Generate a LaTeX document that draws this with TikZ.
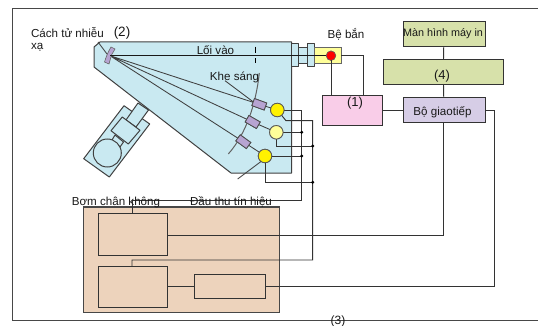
\documentclass[tikz,border=0pt]{standalone}
\usepackage{fontspec}
\setmainfont{Liberation Sans}
\tikzset{
 x=1pt,y=-1pt,
 every node/.style={font=\fontsize{11.6}{13}\selectfont,text=black!90,inner sep=0pt,outer sep=0pt},
 box/.style={draw=black!80,line width=1pt,rectangle,anchor=north west},
 wire/.style={draw=black!80,line width=0.95pt},
 thinl/.style={draw=black!75,line width=0.85pt},
 bluep/.style={draw=black!75,fill=blueb,line width=1pt,line join=round},
 slit/.style={draw=black!70,fill=purp,line width=0.8pt,rectangle,minimum width=13pt,minimum height=7.5pt},
 det/.style={circle,draw=black!65,line width=0.8pt,minimum size=13.5pt},
 jdot/.style={circle,fill=black,minimum size=3.4pt},
}
\definecolor{blueb}{HTML}{C9E9F1}
\definecolor{purp}{HTML}{B7A4D2}
\definecolor{tan}{HTML}{EDD3BC}
\definecolor{pinkb}{HTML}{F9CDE8}
\definecolor{greenb}{HTML}{D7E1AA}
\definecolor{lilac}{HTML}{D6CDE6}
\definecolor{yelb}{HTML}{FFFF99}
\begin{document}
\begin{tikzpicture}
\useasboundingbox (0,0) rectangle (538,326);
% frame
\draw[draw=black!72,line width=1pt] (538,9) -- (12.5,9) -- (12.5,320) -- (538,320);
% pump assembly
\draw[bluep] (124,105.7) -- (149.7,124) -- (109.3,177) -- (83.7,158.7) -- cycle;
\draw[bluep] (138,103) -- (148.5,110) -- (136,127) -- (126,120) -- cycle;
\draw[bluep] (115,135) -- (123.5,142) -- (120,147) -- (112,140) -- cycle;
\draw[bluep] (122.3,117) -- (140,130.3) -- (128.3,144) -- (111,130.7) -- cycle;
\node[draw=black!75,fill=blueb,line width=1pt,circle,minimum size=28pt] (pumpc) at (107.3,153) {};
% body
\draw[bluep] (100,42) -- (291.7,42) -- (291.7,173) -- (231,173) -- (94,67) -- (94,47) -- cycle;
% tubes
\draw[bluep] (291.7,44) rectangle (298.7,67);
\draw[bluep] (298.7,47.5) rectangle (307.7,64);
\draw[bluep] (307.7,44) rectangle (314.3,67);
% boxes
\node[box,draw=black!60,fill=yelb,minimum width=27pt,minimum height=16.5pt] (gun) at (314,47.5) {};
\node[box,fill=pinkb,minimum width=60pt,minimum height=29.5pt] (ctrl) at (322.5,95.8) {};
\node[box,fill=greenb,minimum width=82pt,minimum height=25pt] (screen) at (403,21.5) {};
\node[box,fill=greenb,minimum width=120.5pt,minimum height=25pt] (pc) at (383,59.5) {};
\node[box,fill=lilac,minimum width=82pt,minimum height=25.5pt] (iface) at (403,97.5) {};
\node[box,draw=black!72,fill=tan,line width=1.2pt,minimum width=196pt,minimum height=105.5pt] (rack) at (83.5,207) {};
\node[box,fill=tan,minimum width=69pt,minimum height=42pt] (boxa) at (98,213.7) {};
\node[box,fill=tan,minimum width=69pt,minimum height=41.3pt] (boxb) at (98,266) {};
\node[box,fill=tan,minimum width=71.5pt,minimum height=24.4pt] (boxc) at (194,274.3) {};
% source and detectors
\coordinate (grat) at (110,55.7);
\node[slit,rotate=-20] (s1) at (259.3,104.3) {};
\node[slit,rotate=-30] (s2) at (252.7,122) {};
\node[slit,rotate=-36] (s3) at (243.3,141.7) {};
\node[det,fill=yellow] (d1) at (277.3,110) {};
\node[det,fill=yelb] (d2) at (276.3,132.3) {};
\node[det,fill=yellow] (d3) at (265,156) {};
% Rowland arc
\draw[draw=black!62,line width=1pt] (228.3,154) .. controls (246,134) and (256,104) .. (259.3,73);
% rays
\draw[thinl] (grat) -- (s1) (grat) -- (s2) (grat) -- (s3) (s1) -- (d1) (s2) -- (d2) (s3) -- (d3);
\node[slit,rotate=-20] at (259.3,104.3) {};
\node[slit,rotate=-30] at (252.7,122) {};
\node[slit,rotate=-36] at (243.3,141.7) {};
% grating
\draw[draw=black!60,fill=purp,line width=0.6pt] (104.5,62) -- (109,64) -- (111.5,55) -- (115,49) -- (111,47) .. controls (108,52) and (106,57) .. (104.5,62) -- cycle;
\draw[thinl] (98,42) -- (107,54);
% beam
\node[circle,fill=red,draw=black!60,line width=0.5pt,minimum size=9.5pt] (src) at (331,55.7) {};
\draw[draw=black!90,line width=0.9pt] (grat) -- (src);
\node[circle,fill=red,draw=black!60,line width=0.5pt,minimum size=9.5pt] at (331,55.7) {};
% entrance slit
\draw[draw=black,line width=1pt] (255.7,46.7) -- (255.7,53);
\draw[draw=black,line width=1pt] (255.7,58.3) -- (255.7,62.7);
% leaders
\draw[thinl] (225,80.7) -- (253,101.7);
\draw[thinl] (263,160) -- (237.7,179);
% wiring
\coordinate (b1) at (301.7,110);
\coordinate (b2) at (312.7,120.7);
\coordinate (j1) at (301.7,132.3);
\coordinate (j2) at (312.7,146);
\coordinate (j3) at (301.7,156);
\coordinate (j4) at (312.7,182.3);
\coordinate (b3) at (301.7,200);
\coordinate (b4) at (312.7,260);
\draw[wire] (d1) -- (b1) -- (b3) -- (132,200) -- (132,213.7);
\draw[wire] (d1) -- (286,120.7) -- (b2) -- (b4) -- (132,260) -- (132,266);
\draw[wire] (d2) -- (j1);
\draw[wire] (d2) -- (276.3,146) -- (j2);
\draw[wire] (d3) -- (j3);
\draw[wire] (d3) -- (265,182.3) -- (j4);
\node[jdot] at (j1) {};
\node[jdot] at (j2) {};
\node[jdot] at (j3) {};
\node[jdot] at (j4) {};
\node[det,fill=yellow] at (277.3,110) {};
\node[det,fill=yelb] at (276.3,132.3) {};
\node[det,fill=yellow] at (265,156) {};
\draw[wire] (src) -- (src |- ctrl.north);
\draw[wire] (gun.east |- src) -- (363,55.7) -- (363,95.8);
\draw[wire] (screen) -- (pc);
\draw[wire] (pc) -- (iface);
\draw[wire] (ctrl.east |- 383,110.5) -- (iface.west |- 383,110.5);
\draw[wire] (boxb.east |- 0,286.3) -- (boxc.west |- 0,286.3);
\draw[wire] (boxc.east |- 0,286.3) -- (494.3,286.3) -- (494.3,110.7) -- (iface.east |- 0,110.7);
\draw[wire] (boxa.east |- 0,235.3) -- (443.5,235.3) -- (iface.south -| 443.5,0);
% labels
\node[anchor=west] (l1) at (31,33) {Cách tử nhiễu};
\node[anchor=west] (l2) at (31,47.5) {xạ};
\node[font=\fontsize{13.5}{15}\selectfont] (l3) at (122,33) {(2)};
\node (l4) at (215.5,50) {Lối vào};
\node (l5) at (234.5,77) {Khe sáng};
\node (l6) at (346,34) {Bệ bắn};
\node[font=\fontsize{10.8}{12}\selectfont] (l7) at (443,34) {Màn hình máy in};
\node[font=\fontsize{13}{15}\selectfont] (l8) at (442,76.5) {(4)};
\node[font=\fontsize{13}{15}\selectfont] (l9) at (355,103.5) {(1)};
\node (l10) at (442.5,112) {Bộ giaotiếp};
\node (l11) at (116,202) {Bơm chân không};
\node (l12) at (231,202) {Đầu thu tín hiệu};
\node[font=\fontsize{12}{14}\selectfont] (l13) at (338,321) {(3)};
\end{tikzpicture}
\end{document}
